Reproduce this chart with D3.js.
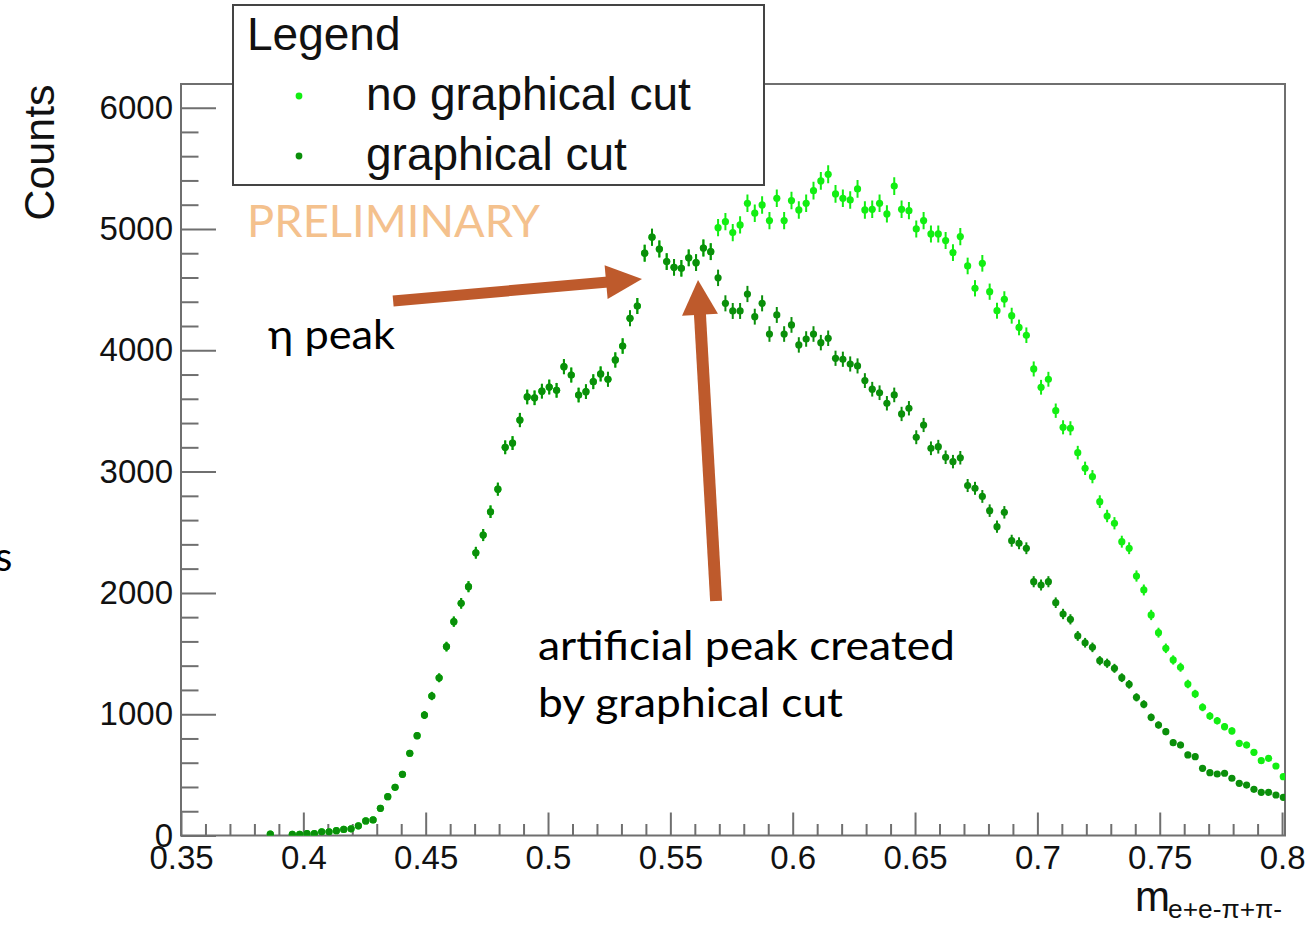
<!DOCTYPE html>
<html>
<head>
<meta charset="utf-8">
<script src="https://cdn.jsdelivr.net/npm/d3@7"></script>
<style>
  html, body { margin: 0; padding: 0; background: #ffffff; }
  svg { display: block; }
</style>
</head>
<body>
<svg id="chart" width="1307" height="925"></svg>
<script>
// ---------------- DATA ----------------
// histogram binning along m(e+e-pi+pi-)
const binLow = 0.352;
const binWidth = 0.003;

// "graphical cut" counts, bin 0 .. 149
const countsCut = [
  0, 0, 0, 0, 0, 0, 0, 0, 0, 0,
  0, 12, 0, 0, 10, 10, 15, 15, 30, 30,
  40, 50, 55, 80, 120, 128, 224, 320, 397, 504,
  678, 823, 993, 1150, 1300, 1557, 1763, 1914, 2051, 2331,
  2477, 2669, 2855, 3200, 3235, 3425, 3615, 3608, 3663, 3697,
  3670, 3865, 3796, 3631, 3659, 3741, 3805, 3761, 3920, 4035,
  4264, 4365, 4800, 4932, 4835, 4731, 4684, 4676, 4762, 4722,
  4843, 4813, 4597, 4387, 4324, 4324, 4464, 4277, 4387, 4134,
  4291, 4134, 4209, 4044, 4093, 4134, 4063, 4099, 3934, 3926,
  3887, 3871, 3750, 3679, 3650, 3563, 3632, 3475, 3522, 3283,
  3384, 3192, 3205, 3118, 3082, 3114, 2885, 2862, 2795, 2678,
  2546, 2664, 2430, 2409, 2368, 2092, 2065, 2092, 1919, 1826,
  1782, 1645, 1589, 1551, 1441, 1420, 1378, 1301, 1246, 1139,
  1082, 974, 911, 856, 765, 746, 664, 650, 554, 518,
  507, 513, 472, 430, 416, 381, 356, 356, 334, 315
];

// "no graphical cut" counts, bin 0 .. 149
const countsNoCut = [
  0, 0, 0, 0, 0, 0, 0, 0, 0, 0,
  0, 12, 0, 0, 10, 10, 15, 15, 30, 30,
  40, 50, 55, 80, 120, 128, 224, 320, 397, 504,
  678, 823, 993, 1150, 1300, 1557, 1763, 1914, 2051, 2331,
  2477, 2669, 2855, 3200, 3235, 3425, 3615, 3608, 3663, 3697,
  3670, 3865, 3796, 3631, 3659, 3741, 3805, 3761, 3920, 4035,
  4264, 4365, 4800, 4932, 4835, 4731, 4684, 4676, 4762, 4722,
  4843, 4813, 5011, 5060, 4970, 5033, 5212, 5130, 5198, 5069,
  5253, 5069, 5234, 5157, 5212, 5316, 5396, 5451, 5289, 5253,
  5239, 5330, 5157, 5162, 5212, 5124, 5354, 5162, 5151, 5000,
  5069, 4959, 4959, 4904, 4805, 4937, 4695, 4511, 4717, 4483,
  4326, 4420, 4285, 4188, 4124, 3846, 3695, 3761, 3502, 3365,
  3357, 3156, 3027, 2958, 2752, 2634, 2574, 2422, 2368, 2139,
  2024, 1818, 1672, 1543, 1447, 1387, 1249, 1167, 1057, 985,
  946, 897, 862, 760, 746, 686, 617, 636, 573, 485
];

const seriesNames = ["no graphical cut", "graphical cut"];
const seriesColors = ["#12ee12", "#0a8f0a"];

const xTickValues = [0.35, 0.4, 0.45, 0.5, 0.55, 0.6, 0.65, 0.7, 0.75, 0.8];
const xTickLabels = ["0.35", "0.4", "0.45", "0.5", "0.55", "0.6", "0.65", "0.7", "0.75", "0.8"];
const yTickValues = [0, 1000, 2000, 3000, 4000, 5000, 6000];
const yTickLabels = ["0", "1000", "2000", "3000", "4000", "5000", "6000"];

const xDomain = [0.35, 0.8012];
const yDomain = [0, 6195];

// ---------------- LAYOUT ----------------
const svg = d3.select("#chart");
const frame = { left: 181, right: 1285, top: 84, bottom: 835.5 };
const x = d3.scaleLinear().domain(xDomain).range([frame.left, frame.right]);
const y = d3.scaleLinear().domain(yDomain).range([frame.bottom, frame.top]);

const axisColor = "#6f6f6f";
const rootFont = "'Liberation Sans', Arial, Helvetica, sans-serif";
const noteFont = "Lato, 'Open Sans', sans-serif";

svg.append("rect").attr("width", 1307).attr("height", 925).attr("fill", "#fff");

// frame
svg.append("rect")
  .attr("x", frame.left).attr("y", frame.top)
  .attr("width", frame.right - frame.left).attr("height", frame.bottom - frame.top)
  .attr("fill", "none").attr("stroke", axisColor).attr("stroke-width", 2);

// y axis (ticks inside, labels outside)
const yMinor = d3.range(200, 6200, 200).filter(v => v % 1000 !== 0);
const gyMinor = svg.append("g").attr("transform", `translate(${frame.left},0)`)
  .call(d3.axisLeft(y).tickValues(yMinor).tickSize(-17.5).tickSizeOuter(0).tickFormat(""));
const gy = svg.append("g").attr("transform", `translate(${frame.left},0)`)
  .call(d3.axisLeft(y).tickValues(yTickValues).tickSize(-35).tickSizeOuter(0).tickPadding(8)
    .tickFormat((d, i) => yTickLabels[i]));

// x axis
const xMinor = d3.range(36, 81).map(v => v / 100).filter(v => Math.round(v * 100) % 5 !== 0);
const gxMinor = svg.append("g").attr("transform", `translate(0,${frame.bottom})`)
  .call(d3.axisBottom(x).tickValues(xMinor).tickSize(-11.5).tickSizeOuter(0).tickFormat(""));
const gx = svg.append("g").attr("transform", `translate(0,${frame.bottom})`)
  .call(d3.axisBottom(x).tickValues(xTickValues).tickSize(-23).tickSizeOuter(0).tickPadding(10)
    .tickFormat((d, i) => xTickLabels[i]));

[gyMinor, gy, gxMinor, gx].forEach(g => {
  g.select(".domain").remove();
  g.selectAll(".tick line").attr("stroke", axisColor).attr("stroke-width", 2);
  g.selectAll(".tick text").attr("fill", "#111").style("font-family", rootFont).style("font-size", "33px");
});

// axis titles
svg.append("text")
  .attr("transform", "translate(54,152.5) rotate(-90)")
  .attr("text-anchor", "middle")
  .style("font-family", rootFont).style("font-size", "43px").attr("fill", "#111")
  .text("Counts");
svg.append("text")
  .attr("x", 1135).attr("y", 911)
  .style("font-family", rootFont).style("font-size", "42px").attr("fill", "#111")
  .text("m");
svg.append("text")
  .attr("x", 1168).attr("y", 918)
  .attr("textLength", 114).attr("lengthAdjust", "spacingAndGlyphs")
  .style("font-family", rootFont).style("font-size", "25px").attr("fill", "#111")
  .text("e+e-\u03C0+\u03C0-");

// ---------------- DATA MARKS ----------------
svg.append("clipPath").attr("id", "plotClip")
  .append("rect")
  .attr("x", frame.left).attr("y", frame.top)
  .attr("width", frame.right - frame.left).attr("height", frame.bottom - frame.top);

const plot = svg.append("g").attr("clip-path", "url(#plotClip)");

function drawSeries(counts, color) {
  const pts = counts
    .map((c, j) => ({ xv: binLow + binWidth * (j + 0.5), c: c, e: Math.sqrt(c) }))
    .filter(d => d.c > 0);
  const g = plot.append("g");
  g.selectAll("line.err").data(pts).join("line")
    .attr("class", "err")
    .attr("x1", d => x(d.xv)).attr("x2", d => x(d.xv))
    .attr("y1", d => y(d.c - d.e)).attr("y2", d => y(d.c + d.e))
    .attr("stroke", color).attr("stroke-width", 2);
  g.selectAll("circle").data(pts).join("circle")
    .attr("cx", d => x(d.xv)).attr("cy", d => y(d.c))
    .attr("r", 3.6).attr("fill", color);
}
drawSeries(countsNoCut, seriesColors[0]);
drawSeries(countsCut, seriesColors[1]);

// ---------------- LEGEND ----------------
const leg = svg.append("g");
leg.append("rect").attr("x", 233).attr("y", 5).attr("width", 531).attr("height", 180)
  .attr("fill", "#fff").attr("stroke", "#444").attr("stroke-width", 2);
leg.append("text").attr("x", 247).attr("y", 49.5)
  .style("font-family", rootFont).style("font-size", "46px").attr("fill", "#111")
  .text("Legend");
seriesNames.forEach((name, i) => {
  leg.append("circle").attr("cx", 299).attr("cy", 96 + i * 60).attr("r", 3.4).attr("fill", seriesColors[i]);
  leg.append("text").attr("x", 366).attr("y", 110 + i * 60)
    .style("font-family", rootFont).style("font-size", "46px").attr("fill", "#111")
    .text(name);
});

// ---------------- ANNOTATIONS ----------------
svg.append("text")
  .attr("x", x(0.377)).attr("y", y(4930))
  .attr("textLength", 293).attr("lengthAdjust", "spacingAndGlyphs")
  .style("font-family", noteFont).style("font-size", "45px").attr("fill", "#f4c18d")
  .text("PRELIMINARY");

const notes = [
  { t: "\u03B7 peak", xv: 0.3856, c: 4011, len: 127 },
  { t: "artificial peak created", xv: 0.4959, c: 1447, len: 417 },
  { t: "by graphical cut", xv: 0.4959, c: 977, len: 305 }
];
notes.forEach(n => {
  svg.append("text")
    .attr("x", x(n.xv)).attr("y", y(n.c))
    .attr("textLength", n.len).attr("lengthAdjust", "spacingAndGlyphs")
    .style("font-family", noteFont).style("font-size", "40px").attr("fill", "#000")
    .text(n.t);
});

const arrowColor = "#be5a2c";
const arrows = [
  { from: [0.4367, 4406], to: [0.5384, 4588], w: 11, headLen: 36, headHalf: 17 },
  { from: [0.5687, 1933], to: [0.5613, 4580], w: 12, headLen: 35, headHalf: 18 }
];
arrows.forEach(a => {
  const x0 = x(a.from[0]), y0 = y(a.from[1]);
  const x1 = x(a.to[0]), y1 = y(a.to[1]);
  const dx = x1 - x0, dy = y1 - y0, L = Math.hypot(dx, dy);
  const ux = dx / L, uy = dy / L, px = -uy, py = ux;
  const bx = x1 - ux * a.headLen, by = y1 - uy * a.headLen;
  svg.append("line")
    .attr("x1", x0).attr("y1", y0).attr("x2", bx + ux * 2).attr("y2", by + uy * 2)
    .attr("stroke", arrowColor).attr("stroke-width", a.w);
  svg.append("polygon")
    .attr("points", [
      [x1, y1],
      [bx + px * a.headHalf, by + py * a.headHalf],
      [bx - px * a.headHalf, by - py * a.headHalf]
    ].map(p => p.join(",")).join(" "))
    .attr("fill", arrowColor);
});

// clipped leftover letter at the left margin (as in the reference)
svg.append("text").attr("x", -5).attr("y", 570.5)
  .style("font-family", noteFont).style("font-size", "40px").attr("fill", "#000")
  .text("s");
</script>
</body>
</html>
